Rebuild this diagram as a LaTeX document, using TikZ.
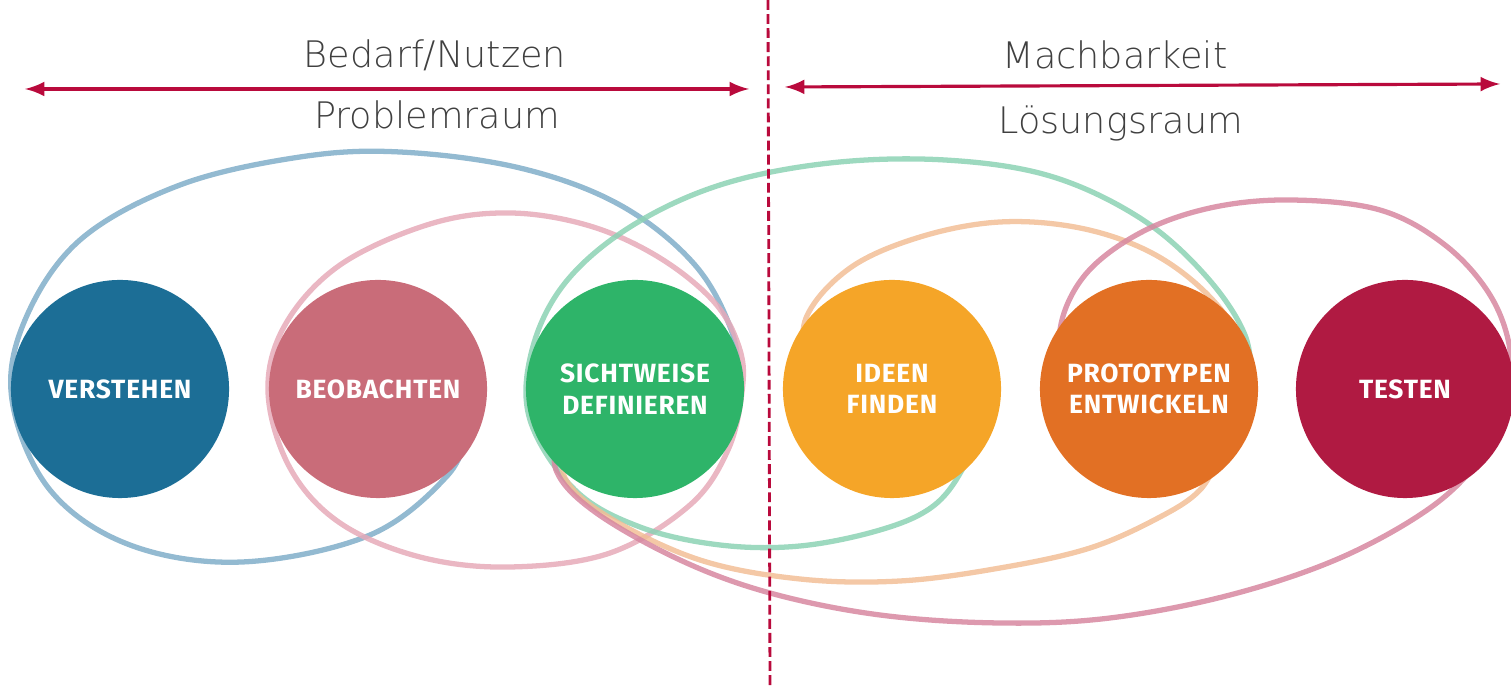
\documentclass[tikz,border=0pt]{standalone}
\usepackage{fontspec}
\setmainfont{DejaVu Sans}
\newfontfamily\thinfont{DejaVu Sans ExtraLight}
\newfontfamily\phasefont[LetterSpace=3]{Fira Sans}
\usepackage{xcolor}
\usepackage{tikz}
\usetikzlibrary{arrows,positioning}

\definecolor{accent}{RGB}{185,10,60}
\definecolor{textgray}{RGB}{64,64,64}
\definecolor{verstehenblue}{RGB}{28,110,150}
\definecolor{beobachtenrose}{RGB}{201,108,121}
\definecolor{sichtgreen}{RGB}{46,180,105}
\definecolor{ideenyellow}{RGB}{245,165,40}
\definecolor{protoorange}{RGB}{226,112,36}
\definecolor{testenred}{RGB}{176,26,66}
\definecolor{ringblue}{RGB}{128,174,201}
\definecolor{ringpink}{RGB}{230,170,185}
\definecolor{ringgreen}{RGB}{140,210,180}
\definecolor{ringorange}{RGB}{242,190,150}
\definecolor{ringred}{RGB}{215,135,160}

\begin{document}
\begin{tikzpicture}[x=0.01cm,y=-0.01cm,
	phase/.style={circle,minimum size=2.18cm,inner sep=0pt,text=white,align=center,
		font=\phasefont\bfseries\fontsize{7.5}{9}\selectfont},
	ring/.style={line width=1.5pt,opacity=0.85},
	raum/.style={text=textgray,font=\thinfont\fontsize{10.4}{12}\selectfont}]
		\useasboundingbox (0,0) rectangle (1511,686);
		% rings behind the phases
		\draw[ring,ringblue] plot[smooth,tension=0.6] coordinates {(468,428) (448,475) (370,535) (242,562) (130,545) (50,490) (12,400) (25,320) (80,240) (180,185) (300,157) (400,152) (520,168) (620,205) (695,265) (733,335) (738,390)};
		\draw[ring,ringpink] plot[smooth cycle,tension=0.6] coordinates {(742,392) (728,450) (690,505) (610,553) (510,567) (420,557) (340,523) (290,468) (268,392) (285,325) (340,265) (430,224) (510,213) (590,226) (660,258) (715,303) (740,350)};
		\draw[ring,ringgreen] plot[smooth,tension=0.6] coordinates {(978,425) (962,470) (932,507) (880,530) (800,546) (720,545) (640,527) (575,490) (530,420) (532,350) (565,283) (630,227) (720,185) (830,163) (945,160) (1050,176) (1140,218) (1205,275) (1245,335) (1252,390)};
		\draw[ring,ringorange] plot[smooth,tension=0.6] coordinates {(805,375) (806,318) (850,268) (920,237) (1000,222) (1080,228) (1150,252) (1205,292) (1240,340) (1245,390)};
		\draw[ring,ringorange] plot[smooth,tension=0.6] coordinates {(565,430) (565,478) (610,518) (700,560) (800,579) (900,581) (1000,568) (1090,548) (1160,517) (1200,490) (1220,455)};
		\draw[ring,ringred] plot[smooth,tension=0.6] coordinates {(1070,385) (1060,330) (1085,275) (1140,233) (1210,208) (1290,200) (1380,210) (1445,245) (1490,295) (1510,350) (1505,400)};
		\draw[ring,ringred] plot[smooth,tension=0.6] coordinates {(560,425) (556,470) (595,512) (680,560) (770,593) (880,615) (1000,623) (1110,618) (1230,595) (1340,558) (1430,508) (1478,460) (1485,420)};
		% the six phases
		\node[phase,fill=verstehenblue] (verstehen) at (120,389) {VERSTEHEN};
		\node[phase,fill=beobachtenrose] (beobachten) at (378,389) {BEOBACHTEN};
		\node[phase,fill=sichtgreen] (sichtweise) at (635,389) {SICHTWEISE\\DEFINIEREN};
		\node[phase,fill=ideenyellow] (ideen) at (892,389) {IDEEN\\FINDEN};
		\node[phase,fill=protoorange] (prototypen) at (1149,389) {PROTOTYPEN\\ENTWICKELN};
		\node[phase,fill=testenred] (testen) at (1405,389) {TESTEN};
		% problem and solution space
		\node[raum] (bedarf) at (435,55) {Bedarf/Nutzen};
		\node[raum] (problemraum) at (437,115) {Problemraum};
		\node[raum] (machbarkeit) at (1115,55) {Machbarkeit};
		\node[raum] (loesungsraum) at (1121,123) {Lösungsraum};
		\coordinate (probleml) at (25,89);
		\coordinate (problemr) at (749,89);
		\coordinate (loesungl) at (785,87);
		\coordinate (loesungr) at (1500,84);
		\draw[latex-latex,accent,line width=0.9pt] (probleml) -- (problemr);
		\draw[latex-latex,accent,line width=0.9pt] (loesungl) -- (loesungr);
		\coordinate (divtop) at (768,0);
		\coordinate (divbot) at (770,686);
		\draw[accent,line width=0.8pt,dash pattern=on 2.8pt off 1.2pt] (divtop) -- (divbot);
	\end{tikzpicture}
\end{document}
